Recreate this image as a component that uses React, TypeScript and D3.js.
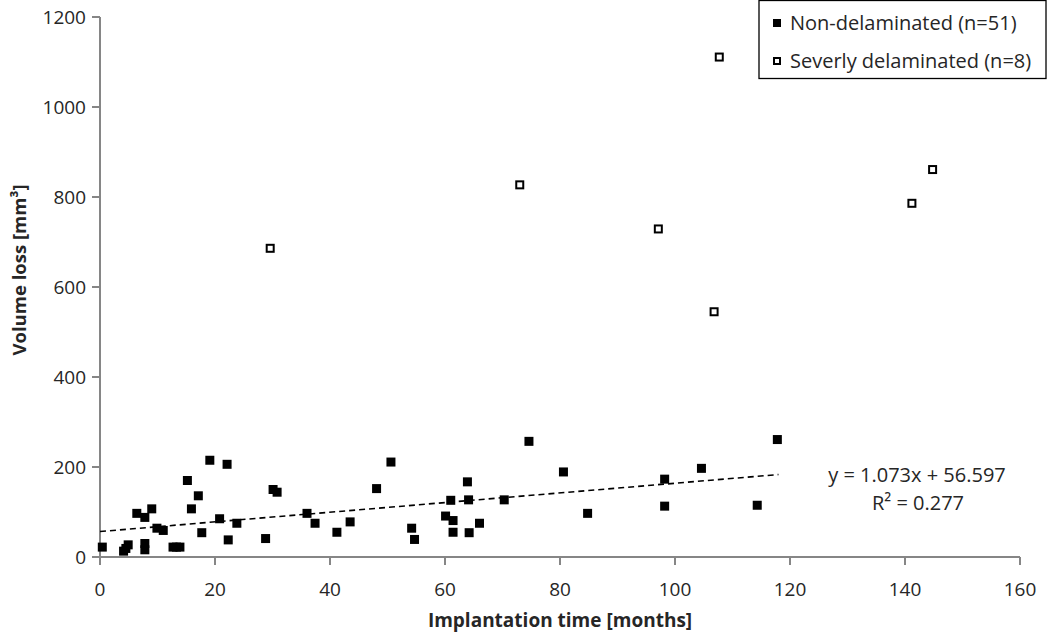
import React from "react";
import * as d3 from "d3";

const nonDelamX = [0.4, 4.1, 4.5, 4.9, 6.4, 7.8, 7.8, 7.8, 9.0, 9.9, 11.0, 12.7, 13.3, 13.9, 15.2, 15.9, 17.1, 17.7, 19.1, 20.8, 22.1, 22.3, 23.8, 28.8, 30.1, 30.8, 36.0, 37.4, 41.2, 43.5, 48.1, 50.6, 54.2, 54.7, 60.1, 61.0, 61.4, 61.4, 63.9, 64.1, 64.2, 66.0, 70.3, 74.6, 80.6, 84.8, 98.2, 98.2, 104.6, 114.3, 117.8];
const nonDelamY = [22, 13, 19, 27, 97, 88, 30, 16, 107, 64, 59, 22, 22, 22, 170, 107, 136, 54, 215, 85, 206, 38, 75, 41, 150, 144, 97, 75, 55, 78, 152, 211, 64, 39, 91, 126, 81, 55, 167, 127, 54, 75, 127, 257, 189, 97, 173, 113, 197, 115, 261];

const sevX = [29.6, 73.0, 97.1, 106.8, 107.7, 141.2, 144.8];
const sevY = [686, 827, 729, 545, 1111, 786, 861];

const xTicks = [0, 20, 40, 60, 80, 100, 120, 140, 160];
const yTicks = [0, 200, 400, 600, 800, 1000, 1200];

const slope = 1.073;
const intercept = 56.597;
const fitRange = [0, 118];

const legendLabels = ["Non-delaminated (n=51)", "Severly delaminated (n=8)"];

const FONT = "'Open Sans', sans-serif";

export default function App() {
  const W = 1050, H = 634;
  const x = d3.scaleLinear().domain([0, 160]).range([100, 1020]);
  const y = d3.scaleLinear().domain([0, 1200]).range([557, 17]);
  const axisColor = "#868686";
  const textColor = "#262626";
  const s = 9;
  const line = d3.line<number>().x((d) => x(d)).y((d) => y(slope * d + intercept));

  return (
    <svg width={W} height={H} style={{ position: "absolute", left: 0, top: 0, background: "#fff" }}>
      <rect x={0} y={0} width={W} height={H} fill="#fff" />
      {/* axes */}
      <line x1={x(0)} x2={x(0)} y1={y(1200)} y2={y(0)} stroke={axisColor} strokeWidth={2} />
      <line x1={x(0)} x2={x(160)} y1={y(0)} y2={y(0)} stroke={axisColor} strokeWidth={2} />
      {yTicks.map((t) => (
        <g key={"y" + t}>
          <line x1={x(0) - 8} x2={x(0)} y1={y(t)} y2={y(t)} stroke={axisColor} strokeWidth={2} />
          <text x={x(0) - 14} y={y(t)} dy="0.35em" textAnchor="end" fontFamily={FONT} fontSize={19} fill={textColor}>
            {t}
          </text>
        </g>
      ))}
      {xTicks.map((t) => (
        <g key={"x" + t}>
          <line x1={x(t)} x2={x(t)} y1={y(0)} y2={y(0) + 8} stroke={axisColor} strokeWidth={2} />
          <text x={x(t)} y={589} dy="0.35em" textAnchor="middle" fontFamily={FONT} fontSize={19} fill={textColor}>
            {t}
          </text>
        </g>
      ))}
      {/* axis titles */}
      <text x={560} y={620} dy="0.35em" textAnchor="middle" fontFamily={FONT} fontSize={19} fontWeight="bold" fill={textColor}>
        Implantation time [months]
      </text>
      <text
        transform={`translate(20, 270) rotate(-90)`}
        dy="0.35em"
        textAnchor="middle"
        fontFamily={FONT}
        fontSize={18.5}
        fontWeight="bold"
        fill={textColor}
      >
        Volume loss [mm³]
      </text>
      {/* trend line */}
      <path d={line(fitRange) || ""} stroke="#000" strokeWidth={1.6} strokeDasharray="6,4" fill="none" />
      {/* points */}
      {nonDelamX.map((v, i) => (
        <rect key={"n" + i} x={x(v) - s / 2} y={y(nonDelamY[i]) - s / 2} width={s} height={s} fill="#000" />
      ))}
      {sevX.map((v, i) => (
        <rect key={"s" + i} x={x(v) - 3.5} y={y(sevY[i]) - 3.5} width={7} height={7} fill="#fff" stroke="#000" strokeWidth={2} />
      ))}
      {/* equation */}
      <text x={917} y={475} dy="0.35em" textAnchor="middle" fontFamily={FONT} fontSize={20} fill={textColor}>
        y = 1.073x + 56.597
      </text>
      <text x={918} y={503} dy="0.35em" textAnchor="middle" fontFamily={FONT} fontSize={20} fill={textColor}>
        R² = 0.277
      </text>
      {/* legend */}
      <rect x={759} y={0.5} width={287} height={78} fill="#fff" stroke="#000" strokeWidth={1.3} />
      <rect x={773} y={19} width={8} height={8} fill="#000" />
      <text x={790} y={23} dy="0.35em" fontFamily={FONT} fontSize={20} fill={textColor}>
        {legendLabels[0]}
      </text>
      <rect x={774} y={58} width={6} height={6} fill="#fff" stroke="#000" strokeWidth={2} />
      <text x={790} y={61} dy="0.35em" fontFamily={FONT} fontSize={20} fill={textColor}>
        {legendLabels[1]}
      </text>
    </svg>
  );
}
